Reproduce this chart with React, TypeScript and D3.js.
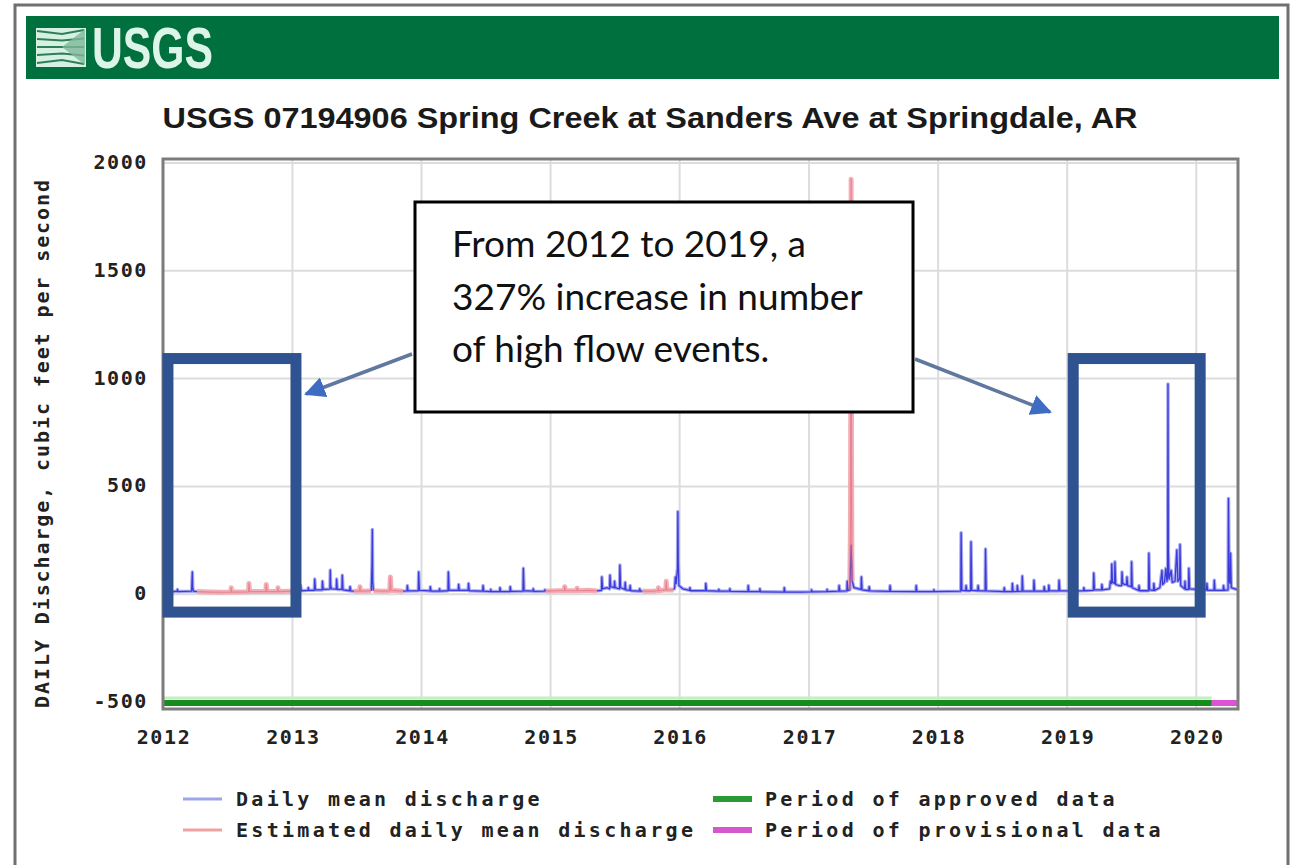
import React from "react";
import * as d3 from "d3";

type Pt = [string, number | null];

const yearTicks = [2012, 2013, 2014, 2015, 2016, 2017, 2018, 2019, 2020];
const valueTicks = [-500, 0, 500, 1000, 1500, 2000];
const xDomain = ["2012-01-01", "2020-04-28"];
const yDomain = [-500, 2000];

const titleText = "USGS 07194906 Spring Creek at Sanders Ave at Springdale, AR";
const yAxisTitle = "DAILY Discharge, cubic feet per second";
const legendLeft = ["Daily mean discharge", "Estimated daily mean discharge"];
const legendRight = ["Period of approved data", "Period of provisional data"];
const annotationLines = ["From 2012 to 2019, a", "327% increase in number", "of high flow events."];

const approvedPeriod = ["2012-01-01", "2020-02-14"];
const provisionalPeriod = ["2020-02-14", "2020-04-28"];
const highlightDates = [["2012-01-15", "2013-01-11"], ["2019-01-18", "2020-01-12"]];
const highlightValues = [1093, -83];

const dailyMean: Pt[] = [
  ["2012-01-01", 12], ["2012-01-20", 10], ["2012-02-10", 14], ["2012-02-11", 22], ["2012-02-12", 12],
  ["2012-03-22", 14], ["2012-03-23", 60], ["2012-03-24", 103], ["2012-03-25", 30], ["2012-03-27", 14],
  ["2012-04-06", 12], ["2012-04-07", null],
  ["2013-01-01", 14], ["2013-01-22", 14], ["2013-01-24", 40], ["2013-01-26", 16], ["2013-02-14", 18],
  ["2013-02-15", 30], ["2013-02-16", 18], ["2013-03-04", 18], ["2013-03-05", 70], ["2013-03-07", 20],
  ["2013-03-26", 20], ["2013-03-27", 60], ["2013-03-29", 22], ["2013-04-17", 24], ["2013-04-18", 112],
  ["2013-04-19", 45], ["2013-04-21", 25], ["2013-05-05", 24], ["2013-05-06", 70], ["2013-05-08", 22],
  ["2013-05-21", 22], ["2013-05-22", 88], ["2013-05-24", 20], ["2013-06-12", 16], ["2013-06-13", 35],
  ["2013-06-15", 15], ["2013-06-24", 14], ["2013-06-25", null],
  ["2013-08-12", 15], ["2013-08-14", 135], ["2013-08-15", 300], ["2013-08-16", 60], ["2013-08-18", 16],
  ["2013-08-19", null],
  ["2013-11-10", 14], ["2013-11-21", 15], ["2013-11-22", 40], ["2013-11-24", 15], ["2013-12-23", 16],
  ["2013-12-24", 103], ["2013-12-26", 18], ["2014-01-25", 15], ["2014-01-26", 35], ["2014-01-28", 14],
  ["2014-02-20", 14], ["2014-02-21", 25], ["2014-02-22", 14], ["2014-03-17", 16], ["2014-03-18", 103],
  ["2014-03-20", 18], ["2014-04-15", 18], ["2014-04-16", 45], ["2014-04-18", 18], ["2014-05-13", 18],
  ["2014-05-14", 50], ["2014-05-16", 16], ["2014-06-23", 14], ["2014-06-24", 40], ["2014-06-26", 14],
  ["2014-07-15", 12], ["2014-07-16", 22], ["2014-07-17", 12], ["2014-08-10", 12], ["2014-08-11", 30],
  ["2014-08-13", 12], ["2014-09-08", 12], ["2014-09-09", 35], ["2014-09-11", 13], ["2014-10-15", 14],
  ["2014-10-16", 120], ["2014-10-18", 16], ["2014-11-12", 14], ["2014-11-13", 25], ["2014-11-15", 13],
  ["2014-12-15", 14], ["2014-12-16", 20], ["2014-12-18", 14], ["2014-12-19", null],
  ["2015-05-12", 15], ["2015-05-25", 18], ["2015-05-26", 80], ["2015-05-28", 25], ["2015-06-10", 30],
  ["2015-06-17", 25], ["2015-06-18", 88], ["2015-06-20", 35], ["2015-06-30", 30], ["2015-07-01", 60],
  ["2015-07-03", 30], ["2015-07-15", 25], ["2015-07-16", 135], ["2015-07-18", 30], ["2015-07-30", 22],
  ["2015-07-31", 55], ["2015-08-02", 20], ["2015-08-13", 18], ["2015-08-14", 40], ["2015-08-16", 16],
  ["2015-09-09", 14], ["2015-09-10", 25], ["2015-09-12", 14], ["2015-09-18", 14], ["2015-09-19", null],
  ["2015-12-15", 20], ["2015-12-18", 30], ["2015-12-20", 80], ["2015-12-22", 50], ["2015-12-24", 85],
  ["2015-12-26", 120], ["2015-12-27", 383], ["2015-12-28", 150], ["2015-12-30", 40], ["2016-01-10", 25],
  ["2016-01-29", 18], ["2016-01-30", 30], ["2016-02-01", 16], ["2016-03-14", 16], ["2016-03-15", 50],
  ["2016-03-17", 16], ["2016-04-20", 14], ["2016-04-21", 22], ["2016-04-22", 14], ["2016-05-21", 14],
  ["2016-05-22", 25], ["2016-05-24", 13], ["2016-07-12", 12], ["2016-07-13", 40], ["2016-07-15", 12],
  ["2016-08-14", 12], ["2016-08-15", 25], ["2016-08-17", 11], ["2016-10-22", 10], ["2016-10-23", 30],
  ["2016-10-25", 10], ["2016-12-10", 10], ["2017-01-07", 11], ["2017-01-08", 20], ["2017-01-10", 11],
  ["2017-02-20", 12], ["2017-02-21", 22], ["2017-02-22", 12], ["2017-03-26", 14], ["2017-03-27", 40],
  ["2017-03-29", 14], ["2017-04-18", 15], ["2017-04-19", 60], ["2017-04-21", 18], ["2017-04-26", 20],
  ["2017-04-30", 228], ["2017-05-03", 60], ["2017-05-08", 30], ["2017-05-28", 22], ["2017-05-29", 80],
  ["2017-05-31", 20], ["2017-06-19", 16], ["2017-06-20", 35], ["2017-06-22", 15], ["2017-08-17", 13],
  ["2017-08-18", 40], ["2017-08-20", 13], ["2017-10-30", 12], ["2017-10-31", 40], ["2017-11-02", 12],
  ["2017-12-19", 12], ["2017-12-20", 20], ["2017-12-22", 12], ["2018-03-06", 14], ["2018-03-07", 285],
  ["2018-03-09", 18], ["2018-03-20", 16], ["2018-03-21", 40], ["2018-03-23", 16], ["2018-04-03", 16],
  ["2018-04-04", 243], ["2018-04-06", 18], ["2018-04-23", 16], ["2018-04-24", 40], ["2018-04-26", 16],
  ["2018-05-14", 15], ["2018-05-15", 210], ["2018-05-17", 15], ["2018-07-06", 12], ["2018-07-07", 30],
  ["2018-07-09", 12], ["2018-07-29", 12], ["2018-07-30", 50], ["2018-08-01", 12], ["2018-08-12", 13],
  ["2018-08-13", 40], ["2018-08-15", 13], ["2018-08-26", 14], ["2018-08-27", 84], ["2018-08-29", 14],
  ["2018-09-28", 14], ["2018-09-29", 65], ["2018-10-01", 14], ["2018-10-27", 14], ["2018-10-28", 35],
  ["2018-10-30", 14], ["2018-11-09", 14], ["2018-11-10", 42], ["2018-11-12", 15], ["2018-12-08", 15],
  ["2018-12-09", 65], ["2018-12-11", 16], ["2019-01-20", 15], ["2019-01-21", 25], ["2019-01-22", 15],
  ["2019-02-16", 16], ["2019-02-17", 30], ["2019-02-19", 16], ["2019-03-16", 18], ["2019-03-17", 98],
  ["2019-03-19", 20], ["2019-04-08", 20], ["2019-04-09", 45], ["2019-04-11", 20], ["2019-05-01", 25],
  ["2019-05-03", 60], ["2019-05-06", 50], ["2019-05-07", 140], ["2019-05-09", 55], ["2019-05-15", 50],
  ["2019-05-16", 150], ["2019-05-18", 45], ["2019-05-28", 40], ["2019-06-04", 40], ["2019-06-05", 103],
  ["2019-06-07", 50], ["2019-06-12", 45], ["2019-06-18", 45], ["2019-06-19", 80], ["2019-06-21", 40],
  ["2019-07-01", 35], ["2019-07-02", 150], ["2019-07-04", 30], ["2019-07-22", 18], ["2019-07-23", 40],
  ["2019-07-25", 16], ["2019-08-19", 16], ["2019-08-20", 190], ["2019-08-22", 20], ["2019-09-02", 18],
  ["2019-09-03", 50], ["2019-09-05", 18], ["2019-09-20", 30], ["2019-09-26", 110], ["2019-09-28", 45],
  ["2019-10-03", 55], ["2019-10-07", 120], ["2019-10-10", 60], ["2019-10-12", 80], ["2019-10-13", 975],
  ["2019-10-14", 200], ["2019-10-16", 70], ["2019-10-22", 110], ["2019-10-25", 55], ["2019-11-02", 60],
  ["2019-11-07", 205], ["2019-11-10", 60], ["2019-11-15", 70], ["2019-11-16", 230], ["2019-11-18", 40],
  ["2019-11-29", 25], ["2019-11-30", 60], ["2019-12-02", 22], ["2019-12-10", 22], ["2019-12-11", 120],
  ["2019-12-13", 25], ["2020-01-03", 22], ["2020-01-04", 40], ["2020-01-06", 20], ["2020-01-16", 20],
  ["2020-01-17", 120], ["2020-01-19", 22], ["2020-01-30", 20], ["2020-01-31", 50], ["2020-02-02", 18],
  ["2020-02-20", 18], ["2020-02-21", 65], ["2020-02-23", 18], ["2020-03-17", 18], ["2020-03-18", 40],
  ["2020-03-20", 18], ["2020-03-31", 20], ["2020-04-01", 444], ["2020-04-03", 60], ["2020-04-06", 50],
  ["2020-04-07", 190], ["2020-04-09", 30], ["2020-04-28", 20],
];

const estimatedMean: Pt[] = [
  ["2012-04-06", 12], ["2012-05-15", 10], ["2012-06-20", 9], ["2012-07-11", 10], ["2012-07-12", 30],
  ["2012-07-13", 10], ["2012-08-30", 11], ["2012-08-31", 50], ["2012-09-02", 12], ["2012-10-18", 12],
  ["2012-10-19", 45], ["2012-10-21", 12], ["2012-11-20", 12], ["2012-11-21", 30], ["2012-11-22", 12],
  ["2013-01-01", 14], ["2013-01-02", null],
  ["2013-06-24", 14], ["2013-07-10", 14], ["2013-07-11", 35], ["2013-07-12", 14], ["2013-08-12", 15],
  ["2013-08-13", null],
  ["2013-08-18", 16], ["2013-09-10", 14], ["2013-10-03", 15], ["2013-10-04", 45], ["2013-10-05", 80],
  ["2013-10-07", 18], ["2013-11-10", 14], ["2013-11-11", null],
  ["2014-12-18", 14], ["2015-01-20", 16], ["2015-02-09", 16], ["2015-02-10", 35], ["2015-02-12", 16],
  ["2015-03-16", 16], ["2015-03-17", 28], ["2015-03-19", 16], ["2015-04-20", 18], ["2015-05-12", 15],
  ["2015-05-13", null],
  ["2015-09-18", 14], ["2015-10-20", 14], ["2015-11-01", 16], ["2015-11-02", 30], ["2015-11-03", 16],
  ["2015-11-23", 20], ["2015-11-24", 60], ["2015-11-26", 20], ["2015-12-15", 20], ["2015-12-16", null],
  ["2017-04-26", 20], ["2017-04-28", 300], ["2017-04-29", 900], ["2017-04-30", 1925], ["2017-05-01", 700],
  ["2017-05-02", 150], ["2017-05-03", 60],
];

const parse = d3.timeParse("%Y-%m-%d");
const P = { left: 163, right: 1238, top: 159, bottom: 709 };
const MONO = "'DejaVu Sans Mono', 'Liberation Mono', monospace";

export default function App() {
  const x = d3.scaleTime()
    .domain(xDomain.map((d) => parse(d) as Date))
    .range([P.left, P.right]);
  const y = d3.scaleLinear().domain(yDomain).range([702, 163]);

  const line = d3.line<Pt>()
    .defined((d) => d[1] !== null)
    .x((d) => x(parse(d[0]) as Date))
    .y((d) => y(d[1] as number));

  const yr = (v: number) => x(new Date(v, 0, 1));
  const xd = (s: string) => x(parse(s) as Date);

  const lg = [799, 830];
  const dailyPath = line(dailyMean) || "";
  const estPath = line(estimatedMean) || "";

  return (
    <svg width={1299} height={865} style={{ position: "absolute", left: 0, top: 0, background: "#fff" }}>
      {/* outer frame */}
      <path d="M15,866 L15,5 L1288,5 L1288,866" fill="none" stroke="#707070" strokeWidth={3} />
      {/* header */}
      <rect x={26} y={16} width={1253} height={63} fill="#00703f" />
      <rect x={36} y={28} width={50} height={39} fill="#d6f1e2" />
      {[0, 1, 2, 3, 4].map((i) => (
        <path key={i} d={`M37,${31 + i * 8} L62,${34 + i * 6.5} L84,${30 + i * 8.5}`} fill="none" stroke="#2e7e58" strokeWidth={2.2} />
      ))}
      <path d="M62,47 L85,29 L85,65 Z" fill="#7fb89a" opacity={0.8} />
      <text x={92} y={68} fontFamily="'Liberation Sans', Arial, sans-serif" fontWeight="bold" fontSize={58}
        fill="#dcf5e8" textLength={121} lengthAdjust="spacingAndGlyphs">USGS</text>

      {/* title */}
      <text x={650} y={128} textAnchor="middle" fontFamily="'Liberation Sans', Arial, sans-serif" fontWeight="bold"
        fontSize={29} fill="#1a1a1a" textLength={975} lengthAdjust="spacingAndGlyphs">{titleText}</text>

      {/* grid */}
      {valueTicks.map((v) => (
        <line key={"h" + v} x1={P.left} x2={P.right} y1={y(v)} y2={y(v)} stroke="#dcdcdc" strokeWidth={2} />
      ))}
      {yearTicks.map((yrv) => (
        <line key={"v" + yrv} x1={yr(yrv)} x2={yr(yrv)} y1={P.top} y2={P.bottom} stroke="#dcdcdc" strokeWidth={2} />
      ))}

      {/* data */}
      <path d={dailyPath} fill="none" stroke="#a9a9f0" strokeWidth={3.5} strokeLinejoin="round" />
      <path d={estPath} fill="none" stroke="#f2a6b0" strokeWidth={5} strokeOpacity={0.9} strokeLinejoin="round" />
      <path d={dailyPath} fill="none" stroke="#2828d8" strokeWidth={1.3} strokeOpacity={0.85} strokeLinejoin="round" />
      <path d={estPath} fill="none" stroke="#e4707e" strokeWidth={1.2} strokeOpacity={0.7} strokeLinejoin="round" />

      {/* period bars */}
      <line x1={xd(approvedPeriod[0])} x2={xd(approvedPeriod[1])} y1={y(-500) - 4} y2={y(-500) - 4} stroke="#c4efc4" strokeWidth={3} />
      <line x1={xd(approvedPeriod[0])} x2={xd(approvedPeriod[1])} y1={y(-500) + 1} y2={y(-500) + 1} stroke="#168c1c" strokeWidth={6} />
      <line x1={xd(provisionalPeriod[0])} x2={xd(provisionalPeriod[1])} y1={y(-500) + 1} y2={y(-500) + 1} stroke="#de52d6" strokeWidth={6} />

      {/* frame */}
      <rect x={P.left} y={P.top} width={P.right - P.left} height={P.bottom - P.top} fill="none" stroke="#7c7c7c" strokeWidth={3} />

      {/* y ticks */}
      {valueTicks.map((v) => (
        <text key={"yl" + v} x={148} y={y(v) + 6} textAnchor="end" fontFamily={MONO} fontWeight="bold" fontSize={20}
          letterSpacing={1.6} fill="#222">{v}</text>
      ))}
      {/* x ticks */}
      {yearTicks.map((yrv) => (
        <text key={"xl" + yrv} x={yr(yrv) + 1} y={744} textAnchor="middle" fontFamily={MONO} fontWeight="bold" fontSize={20}
          letterSpacing={1.6} fill="#222">{yrv}</text>
      ))}
      {/* y title */}
      <text transform="translate(49,443) rotate(-90)" textAnchor="middle" fontFamily={MONO} fontWeight="bold" fontSize={20}
        letterSpacing={1.9} fill="#222">{yAxisTitle}</text>

      {/* legend */}
      <line x1={183} x2={222} y1={lg[0]} y2={lg[0]} stroke="#9ea4ea" strokeWidth={3} />
      <line x1={183} x2={222} y1={lg[1]} y2={lg[1]} stroke="#f0a2a2" strokeWidth={3} />
      <line x1={713} x2={752} y1={lg[0]} y2={lg[0]} stroke="#2a9a36" strokeWidth={6} />
      <line x1={713} x2={752} y1={lg[1]} y2={lg[1]} stroke="#d458cc" strokeWidth={6} />
      {legendLeft.map((t, i) => (
        <text key={t} x={236} y={lg[i] + 7} fontFamily={MONO} fontWeight="bold" fontSize={20} letterSpacing={3.3} fill="#222">{t}</text>
      ))}
      {legendRight.map((t, i) => (
        <text key={t} x={765} y={lg[i] + 7} fontFamily={MONO} fontWeight="bold" fontSize={20} letterSpacing={3.3} fill="#222">{t}</text>
      ))}

      {/* highlight boxes */}
      {highlightDates.map((r, i) => (
        <rect key={"hb" + i} x={xd(r[0])} y={y(highlightValues[0])} width={xd(r[1]) - xd(r[0])}
          height={y(highlightValues[1]) - y(highlightValues[0])} fill="none" stroke="#2f5290" strokeWidth={11} />
      ))}

      {/* annotation */}
      <rect x={415} y={202} width={498} height={210} fill="#fff" stroke="#000" strokeWidth={3} />
      {annotationLines.map((t, i) => (
        <text key={t} x={452} y={257 + i * 52.5} fontFamily="Lato, 'Open Sans', sans-serif" fontSize={37} fill="#111">{t}</text>
      ))}
      {/* arrows */}
      <defs>
        <marker id="ah" viewBox="0 0 10 10" refX={9} refY={5} markerWidth={6} markerHeight={6} orient="auto" markerUnits="strokeWidth">
          <path d="M0,0 L10,5 L0,10 Z" fill="#3d6cc2" />
        </marker>
      </defs>
      <line x1={412} x2={306} y1={354} y2={394} stroke="#60789f" strokeWidth={3.5} markerEnd="url(#ah)" />
      <line x1={915} x2={1050} y1={359} y2={412} stroke="#60789f" strokeWidth={3.5} markerEnd="url(#ah)" />
    </svg>
  );
}
